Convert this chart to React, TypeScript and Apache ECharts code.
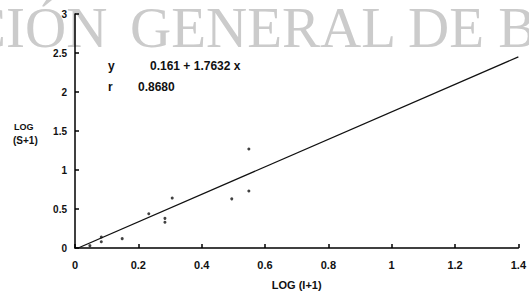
import React, { useEffect, useRef } from "react";
import * as echarts from "echarts";

const pointX = [0.047, 0.083, 0.083, 0.149, 0.233, 0.284, 0.284, 0.307, 0.495, 0.549, 0.549];
const pointY = [0.03, 0.14, 0.08, 0.12, 0.44, 0.33, 0.38, 0.64, 0.63, 0.73, 1.27];
const fitX = [0.01, 1.4];
const fitY = [0, 2.45];
const equationText = "0.161 + 1.7632 x";
const rText = "0.8680";
const watermarkA = "CIÓN";
const watermarkB = "GENERAL DE BI";

export default function App() {
  const ref = useRef<HTMLDivElement>(null);
  useEffect(() => {
    document.body.style.margin = "0";
    const chart = echarts.init(ref.current!, null, { renderer: "svg" });
    const font = "Liberation Sans";
    const wm = { fill: "#cbcbcb", font: "57px 'Liberation Serif'" };
    chart.setOption({
      animation: false,
      backgroundColor: "#ffffff",
      grid: { left: 75, right: 6, top: 14, bottom: 44, containLabel: false },
      xAxis: {
        type: "value",
        min: 0,
        max: 1.4,
        interval: 0.2,
        name: "LOG (I+1)",
        nameLocation: "middle",
        nameGap: 31,
        nameTextStyle: { color: "#111", fontSize: 11, fontWeight: "bold", fontFamily: font },
        axisLine: { lineStyle: { color: "#000", width: 1.5 } },
        axisTick: { inside: true, length: 4, lineStyle: { color: "#000", width: 1.5 } },
        axisLabel: { color: "#111", fontSize: 11, fontWeight: "bold", fontFamily: font, margin: 11 },
        splitLine: { show: false },
      },
      yAxis: {
        type: "value",
        min: 0,
        max: 3,
        interval: 0.5,
        axisLine: { show: true, lineStyle: { color: "#000", width: 1.5 } },
        axisTick: { show: true, inside: true, length: 4, lineStyle: { color: "#000", width: 1.5 } },
        axisLabel: { color: "#111", fontSize: 10, fontWeight: "bold", fontFamily: font, margin: 8 },
        splitLine: { show: false },
      },
      graphic: [
        { type: "text", left: -32, top: -1, z: -10, silent: true, style: { text: watermarkA, ...wm } },
        { type: "text", left: 130, top: -1, z: -10, silent: true, style: { text: watermarkB, ...wm } },
        { type: "text", left: 14, top: 122, style: { text: "LOG", fill: "#111", font: "bold 9px 'Liberation Sans'" } },
        { type: "text", left: 13, top: 135, style: { text: "(S+1)", fill: "#111", font: "bold 10px 'Liberation Sans'" } },
        { type: "text", left: 108, top: 60, style: { text: "y", fill: "#111", font: "bold 12px 'Liberation Sans'" } },
        { type: "text", left: 150, top: 60, style: { text: equationText, fill: "#111", font: "bold 12px 'Liberation Sans'" } },
        { type: "text", left: 108, top: 81, style: { text: "r", fill: "#111", font: "bold 12px 'Liberation Sans'" } },
        { type: "text", left: 138, top: 81, style: { text: rText, fill: "#111", font: "bold 12px 'Liberation Sans'" } },
      ],
      series: [
        {
          type: "line",
          data: fitX.map((x, i) => [x, fitY[i]]),
          showSymbol: false,
          lineStyle: { color: "#111", width: 1.3 },
          z: 3,
        },
        {
          type: "scatter",
          data: pointX.map((x, i) => [x, pointY[i]]),
          symbol: "circle",
          symbolSize: 3,
          itemStyle: { color: "#111" },
          z: 4,
        },
      ],
    });
    return () => chart.dispose();
  }, []);
  return <div ref={ref} style={{ width: 529, height: 295, position: "absolute", left: 0, top: 0 }} />;
}
